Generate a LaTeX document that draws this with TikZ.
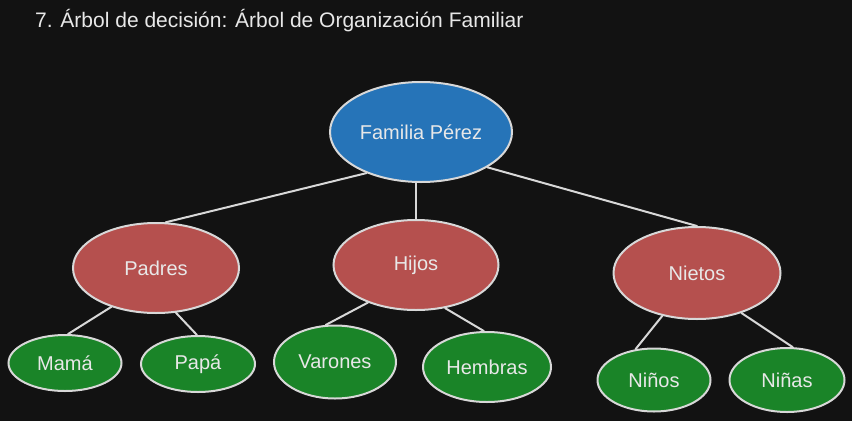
\documentclass[tikz,border=0pt]{standalone}
\usepackage{fontspec}
\setmainfont{Liberation Sans}
\usetikzlibrary{shapes.geometric}
\definecolor{bg}{HTML}{121212}
\definecolor{ink}{HTML}{D8D8D8}
\definecolor{txt}{HTML}{E8E8E8}
\definecolor{blu}{HTML}{2674B8}
\definecolor{rd}{HTML}{B5504E}
\definecolor{grn}{HTML}{1A8428}
\begin{document}
\begin{tikzpicture}[x=1pt,y=-1pt,
  oval/.style={ellipse, draw=ink, line width=2pt, inner sep=0pt, text=txt, font=\fontsize{20}{24}\selectfont},
  root/.style={oval, fill=blu},
  mid/.style={oval, fill=rd},
  leaf/.style={oval, fill=grn},
  link/.style={draw=ink, line width=2pt, line cap=round}]
\fill[bg] (0,0) rectangle (852,421);
\useasboundingbox (0,0) rectangle (852,421);
\node[anchor=base west, text=txt, inner sep=0pt, font=\fontsize{21}{25}\selectfont] (title) at (35,27) {7. Árbol de decisión: Árbol de Organización Familiar};
% nodes
\node[root, minimum width=182pt, minimum height=100pt] (fam) at (421,132) {Familia Pérez};
\node[mid, minimum width=166pt, minimum height=90pt] (pad) at (156,268) {Padres};
\node[mid, minimum width=165pt, minimum height=90pt] (hij) at (416,265) {Hijos};
\node[mid, minimum width=167pt, minimum height=92pt] (nie) at (697,273) {Nietos};
\node[leaf, minimum width=113pt, minimum height=56pt] (mam) at (65,363) {Mamá};
\node[leaf, minimum width=114pt, minimum height=56pt] (pap) at (198,364) {Papá};
\node[leaf, minimum width=122pt, minimum height=73pt] (var) at (335,362) {Varones};
\node[leaf, minimum width=128pt, minimum height=70pt] (hem) at (487,367) {Hembras};
\node[leaf, minimum width=113pt, minimum height=63pt] (nin) at (654,380) {Niños};
\node[leaf, minimum width=115pt, minimum height=64pt] (nia) at (787,380) {Niñas};
% connectors
\draw[link] (fam.217) -- (pad.78);
\draw[link] (fam.south -| hij.north) -- (hij.north);
\draw[link] (fam.332) -- (nie.90);
\draw[link] (pad.221) -- (mam.84);
\draw[link] (pad.294) -- (pap.92);
\draw[link] (hij.218) -- (var.104);
\draw[link] (hij.304) -- (hem.95);
\draw[link] (nie.231) -- (nin.121);
\draw[link] (nie.318) -- (nia.80);
\end{tikzpicture}
\end{document}
